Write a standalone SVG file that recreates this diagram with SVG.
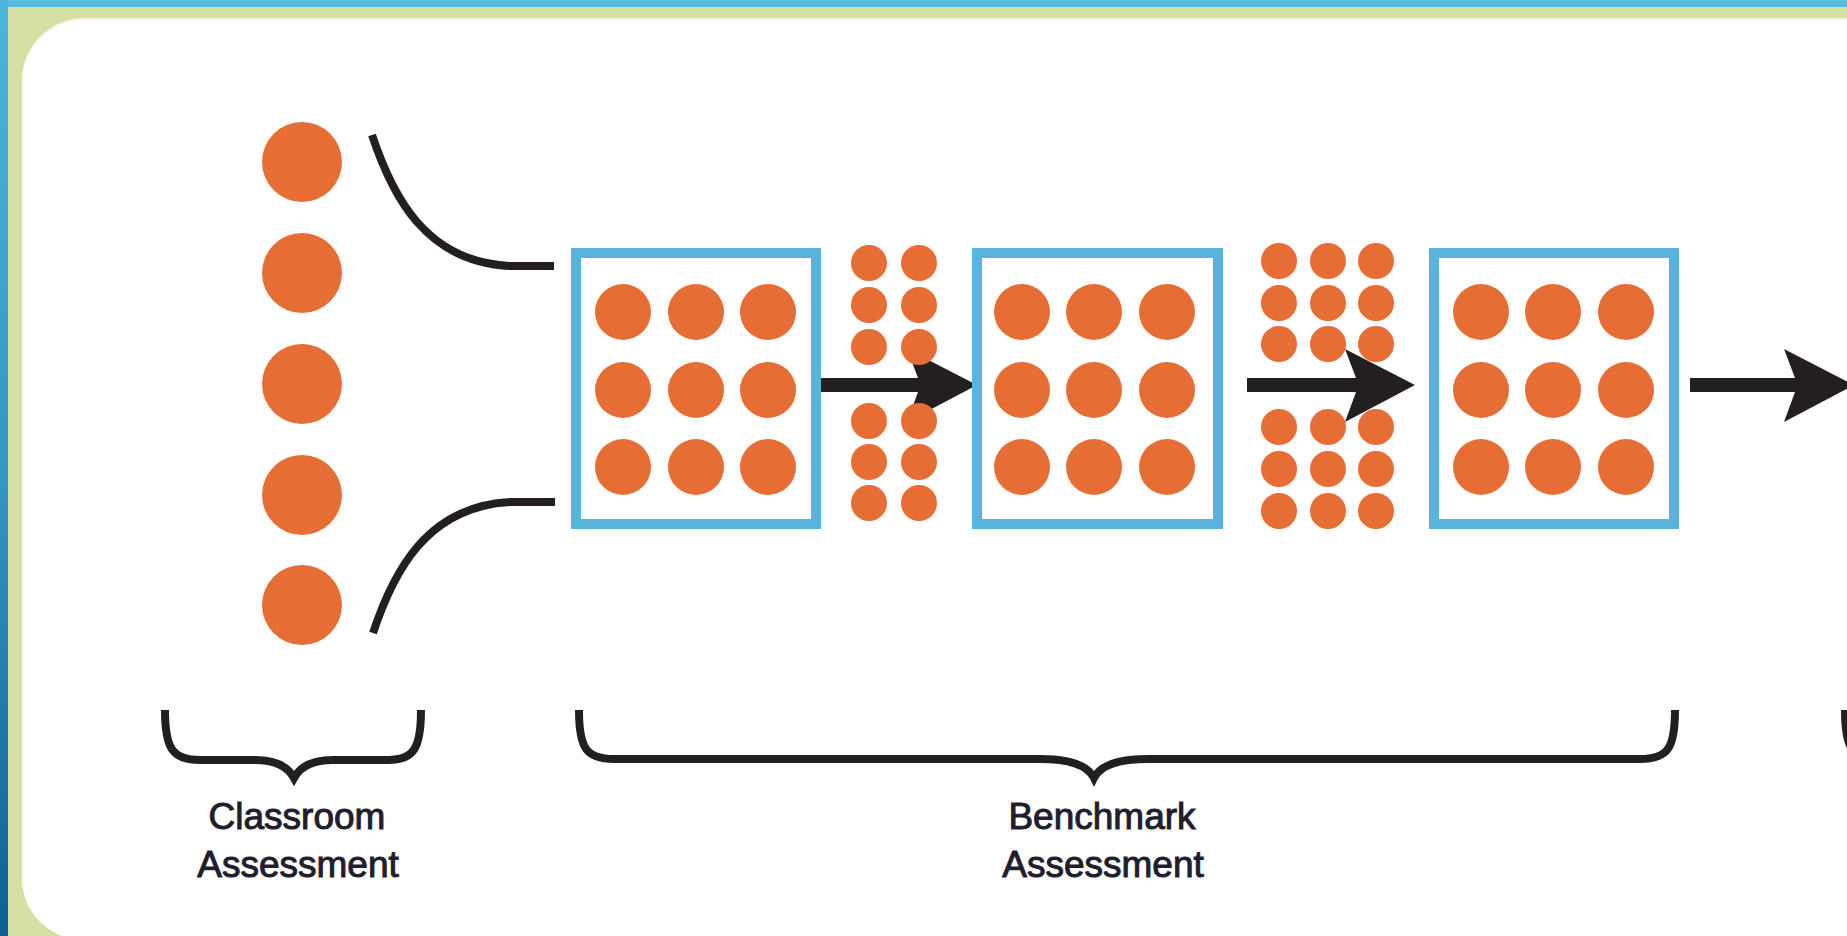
<svg xmlns="http://www.w3.org/2000/svg" width="1847" height="936" viewBox="0 0 1847 936">
  <defs>
    <linearGradient id="leftBlue" x1="0" y1="0" x2="0" y2="1">
      <stop offset="0" stop-color="#4cb6da"/>
      <stop offset="0.5" stop-color="#3596c4"/>
      <stop offset="1" stop-color="#0f5e98"/>
    </linearGradient>
    <path id="head" d="M0,0 L-70,-36 L-59,-7 L-59,7 L-70,37 Z"/>
    <style>
      .big { fill: #e66d34; }
      .dot { fill: #e66d34; }
      .box { fill: #ffffff; stroke: #59b4dc; stroke-width: 10; }
      .curve { fill: none; stroke: #231f20; stroke-width: 8; stroke-linecap: butt; }
      .brace { fill: none; stroke: #231f20; stroke-width: 8; stroke-linejoin: miter; }
      .shaft { fill: #231f20; }
      .arrowhead { fill: #231f20; }
      .label { font-family: "Liberation Sans", Arial, sans-serif; font-size: 37px; fill: #1f1d2e; stroke: #1f1d2e; stroke-width: 1; text-anchor: middle; }
    </style>
  </defs>

  <!-- frame -->
  <g id="frame">
    <rect x="0" y="0" width="1847" height="936" fill="#d6e0a4"/>
    <rect x="0" y="0" width="1847" height="7" fill="#55bde0"/>
    <rect x="0" y="0" width="8" height="936" fill="url(#leftBlue)"/>
    <rect x="22" y="18" width="1900" height="922" rx="62" ry="62" fill="#f2f5e4"/>
    <rect x="22" y="20" width="1900" height="920" rx="62" ry="62" fill="#ffffff"/>
  </g>

  <!-- classroom assessment circles -->
  <g id="classroom-dots">
    <circle class="big" cx="302" cy="162" r="40"/>
    <circle class="big" cx="302" cy="273" r="40"/>
    <circle class="big" cx="302" cy="384" r="40"/>
    <circle class="big" cx="302" cy="495" r="40"/>
    <circle class="big" cx="302" cy="605" r="40"/>
  </g>

  <!-- connectors -->
  <g id="connectors">
    <path class="curve" d="M372,135 C392,195 425,262 510,266 L554,266"/>
    <path class="curve" d="M373,633 C393,573 426,506 511,502 L555,502"/>

    <rect class="shaft" x="811" y="378" width="110" height="14"/>
    <use href="#head" class="arrowhead" transform="translate(977,385)"/>
    <rect class="shaft" x="1247" y="378" width="110" height="14"/>
    <use href="#head" class="arrowhead" transform="translate(1415,385)"/>
    <rect class="shaft" x="1690" y="378" width="108" height="14"/>
    <use href="#head" class="arrowhead" transform="translate(1854,385)"/>

    <path class="brace" d="M165,710 C165,748 172,760 200,760 L255,760 C275,760 288,767 294,778 C300,767 313,760 333,760 L388,760 C414,760 421,748 421,710"/>
    <path class="brace" d="M579,710 C579,748 586,759 614,759 L1040,759 C1070,759 1088,766 1094,778 C1100,766 1118,759 1148,759 L1640,759 C1668,759 1675,748 1675,710"/>
    <path class="brace" d="M1845,710 C1845,748 1852,760 1880,760"/>
  </g>

  <!-- benchmark box 1 -->
  <g id="box1">
    <rect class="box" x="576" y="253" width="240" height="271"/>
    <circle class="dot" cx="623" cy="312" r="28"/>
    <circle class="dot" cx="696" cy="312" r="28"/>
    <circle class="dot" cx="768" cy="312" r="28"/>
    <circle class="dot" cx="623" cy="390" r="28"/>
    <circle class="dot" cx="696" cy="390" r="28"/>
    <circle class="dot" cx="768" cy="390" r="28"/>
    <circle class="dot" cx="623" cy="467" r="28"/>
    <circle class="dot" cx="696" cy="467" r="28"/>
    <circle class="dot" cx="768" cy="467" r="28"/>
  </g>

  <!-- small dots between box 1 and box 2 -->
  <g id="smalldots1">
    <circle class="dot" cx="869" cy="263" r="18"/>
    <circle class="dot" cx="919" cy="263" r="18"/>
    <circle class="dot" cx="869" cy="305" r="18"/>
    <circle class="dot" cx="919" cy="305" r="18"/>
    <circle class="dot" cx="869" cy="347" r="18"/>
    <circle class="dot" cx="919" cy="347" r="18"/>
    <circle class="dot" cx="869" cy="421" r="18"/>
    <circle class="dot" cx="919" cy="421" r="18"/>
    <circle class="dot" cx="869" cy="462" r="18"/>
    <circle class="dot" cx="919" cy="462" r="18"/>
    <circle class="dot" cx="869" cy="503" r="18"/>
    <circle class="dot" cx="919" cy="503" r="18"/>
  </g>

  <!-- benchmark box 2 -->
  <g id="box2">
    <rect class="box" x="977" y="253" width="241" height="271"/>
    <circle class="dot" cx="1022" cy="312" r="28"/>
    <circle class="dot" cx="1094" cy="312" r="28"/>
    <circle class="dot" cx="1167" cy="312" r="28"/>
    <circle class="dot" cx="1022" cy="390" r="28"/>
    <circle class="dot" cx="1094" cy="390" r="28"/>
    <circle class="dot" cx="1167" cy="390" r="28"/>
    <circle class="dot" cx="1022" cy="467" r="28"/>
    <circle class="dot" cx="1094" cy="467" r="28"/>
    <circle class="dot" cx="1167" cy="467" r="28"/>
  </g>

  <!-- small dots between box 2 and box 3 -->
  <g id="smalldots2">
    <circle class="dot" cx="1279" cy="261" r="18"/>
    <circle class="dot" cx="1328" cy="261" r="18"/>
    <circle class="dot" cx="1376" cy="261" r="18"/>
    <circle class="dot" cx="1279" cy="303" r="18"/>
    <circle class="dot" cx="1328" cy="303" r="18"/>
    <circle class="dot" cx="1376" cy="303" r="18"/>
    <circle class="dot" cx="1279" cy="344" r="18"/>
    <circle class="dot" cx="1328" cy="344" r="18"/>
    <circle class="dot" cx="1376" cy="344" r="18"/>
    <circle class="dot" cx="1279" cy="427" r="18"/>
    <circle class="dot" cx="1328" cy="427" r="18"/>
    <circle class="dot" cx="1376" cy="427" r="18"/>
    <circle class="dot" cx="1279" cy="469" r="18"/>
    <circle class="dot" cx="1328" cy="469" r="18"/>
    <circle class="dot" cx="1376" cy="469" r="18"/>
    <circle class="dot" cx="1279" cy="511" r="18"/>
    <circle class="dot" cx="1328" cy="511" r="18"/>
    <circle class="dot" cx="1376" cy="511" r="18"/>
  </g>

  <!-- benchmark box 3 -->
  <g id="box3">
    <rect class="box" x="1434" y="253" width="240" height="271"/>
    <circle class="dot" cx="1481" cy="312" r="28"/>
    <circle class="dot" cx="1553" cy="312" r="28"/>
    <circle class="dot" cx="1626" cy="312" r="28"/>
    <circle class="dot" cx="1481" cy="390" r="28"/>
    <circle class="dot" cx="1553" cy="390" r="28"/>
    <circle class="dot" cx="1626" cy="390" r="28"/>
    <circle class="dot" cx="1481" cy="467" r="28"/>
    <circle class="dot" cx="1553" cy="467" r="28"/>
    <circle class="dot" cx="1626" cy="467" r="28"/>
  </g>

  <!-- labels -->
  <g id="label-classroom">
    <text class="label" x="297" y="829">Classroom</text>
    <text class="label" x="298" y="877">Assessment</text>
  </g>
  <g id="label-benchmark">
    <text class="label" x="1102" y="829">Benchmark</text>
    <text class="label" x="1103" y="877">Assessment</text>
  </g>
</svg>
